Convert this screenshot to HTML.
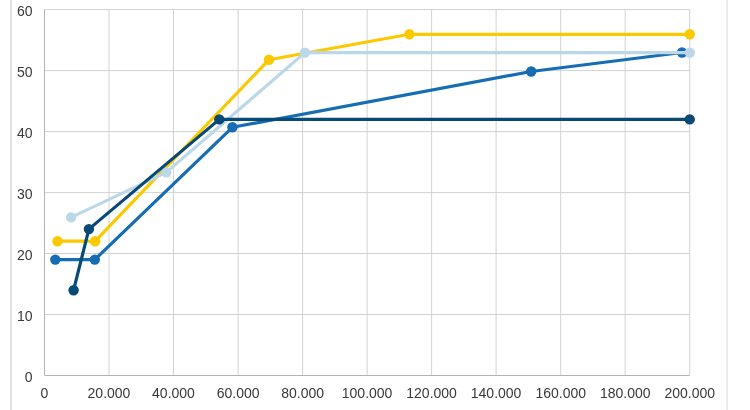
<!DOCTYPE html>
<html><head><meta charset="utf-8"><style>
html,body{margin:0;padding:0;background:#fff;width:750px;height:410px;overflow:hidden}
svg{display:block;will-change:transform}
text{font-family:"Liberation Sans",Arial,sans-serif;font-size:14px;fill:#383838}
</style></head><body>
<svg width="750" height="410" viewBox="0 0 750 410">
<rect x="0" y="0" width="750" height="410" fill="#fff"/>
<line x1="11" y1="0" x2="11" y2="410" stroke="#e2e2e2" stroke-width="2"/>
<line x1="727" y1="0" x2="727" y2="410" stroke="#ececec" stroke-width="2"/>
<g stroke="#d2d2d2" stroke-width="1"><line x1="109.0" y1="9.6" x2="109.0" y2="375.5"/><line x1="173.5" y1="9.6" x2="173.5" y2="375.5"/><line x1="238.1" y1="9.6" x2="238.1" y2="375.5"/><line x1="302.6" y1="9.6" x2="302.6" y2="375.5"/><line x1="367.1" y1="9.6" x2="367.1" y2="375.5"/><line x1="431.6" y1="9.6" x2="431.6" y2="375.5"/><line x1="496.1" y1="9.6" x2="496.1" y2="375.5"/><line x1="560.7" y1="9.6" x2="560.7" y2="375.5"/><line x1="625.2" y1="9.6" x2="625.2" y2="375.5"/><line x1="689.7" y1="9.6" x2="689.7" y2="375.5"/><line x1="44.5" y1="314.5" x2="689.7" y2="314.5"/><line x1="44.5" y1="253.5" x2="689.7" y2="253.5"/><line x1="44.5" y1="192.6" x2="689.7" y2="192.6"/><line x1="44.5" y1="131.6" x2="689.7" y2="131.6"/><line x1="44.5" y1="70.6" x2="689.7" y2="70.6"/><line x1="44.5" y1="9.6" x2="689.7" y2="9.6"/></g>
<g stroke="#b3b3b3" stroke-width="1"><line x1="44.5" y1="9.6" x2="44.5" y2="375.5"/><line x1="44.5" y1="375.5" x2="689.7" y2="375.5"/></g>
<polyline points="57.5,241.2 95.2,241.2 269,59.7 409.4,34.3 689.7,34.3" fill="none" stroke="#fcc800" stroke-width="3.2" stroke-linejoin="round"/><circle cx="57.5" cy="241.2" r="5.2" fill="#fcc800"/><circle cx="95.2" cy="241.2" r="5.2" fill="#fcc800"/><circle cx="269" cy="59.7" r="5.2" fill="#fcc800"/><circle cx="409.4" cy="34.3" r="5.2" fill="#fcc800"/><circle cx="689.7" cy="34.3" r="5.2" fill="#fcc800"/>
<polyline points="55.3,259.6 94.8,259.6 232.4,127.3 531.2,71.5 682,52.5" fill="none" stroke="#166db3" stroke-width="3.2" stroke-linejoin="round"/><circle cx="55.3" cy="259.6" r="5.2" fill="#166db3"/><circle cx="94.8" cy="259.6" r="5.2" fill="#166db3"/><circle cx="232.4" cy="127.3" r="5.2" fill="#166db3"/><circle cx="531.2" cy="71.5" r="5.2" fill="#166db3"/><circle cx="682" cy="52.5" r="5.2" fill="#166db3"/>
<polyline points="71.1,217.4 166.3,172.4 304.9,52.6 689.9,52.6" fill="none" stroke="#bcd7e8" stroke-width="3.2" stroke-linejoin="round"/><circle cx="71.1" cy="217.4" r="5.2" fill="#bcd7e8"/><circle cx="166.3" cy="172.4" r="5.2" fill="#bcd7e8"/><circle cx="304.9" cy="52.6" r="5.2" fill="#bcd7e8"/><circle cx="689.9" cy="52.6" r="5.2" fill="#bcd7e8"/>
<polyline points="73.6,290.2 88.9,229.1 219.3,119.4 689.7,119.4" fill="none" stroke="#074a76" stroke-width="3.2" stroke-linejoin="round"/><circle cx="73.6" cy="290.2" r="5.2" fill="#074a76"/><circle cx="88.9" cy="229.1" r="5.2" fill="#074a76"/><circle cx="219.3" cy="119.4" r="5.2" fill="#074a76"/><circle cx="689.7" cy="119.4" r="5.2" fill="#074a76"/>
<text x="32.6" y="381.5" text-anchor="end">0</text><text x="32.6" y="320.5" text-anchor="end">10</text><text x="32.6" y="259.5" text-anchor="end">20</text><text x="32.6" y="198.6" text-anchor="end">30</text><text x="32.6" y="137.6" text-anchor="end">40</text><text x="32.6" y="76.6" text-anchor="end">50</text><text x="32.6" y="15.6" text-anchor="end">60</text>
<text x="44.5" y="397.6" text-anchor="middle">0</text><text x="109.0" y="397.6" text-anchor="middle">20.000</text><text x="173.5" y="397.6" text-anchor="middle">40.000</text><text x="238.1" y="397.6" text-anchor="middle">60.000</text><text x="302.6" y="397.6" text-anchor="middle">80.000</text><text x="367.1" y="397.6" text-anchor="middle">100.000</text><text x="431.6" y="397.6" text-anchor="middle">120.000</text><text x="496.1" y="397.6" text-anchor="middle">140.000</text><text x="560.7" y="397.6" text-anchor="middle">160.000</text><text x="625.2" y="397.6" text-anchor="middle">180.000</text><text x="689.7" y="397.6" text-anchor="middle">200.000</text>
</svg>
</body></html>
